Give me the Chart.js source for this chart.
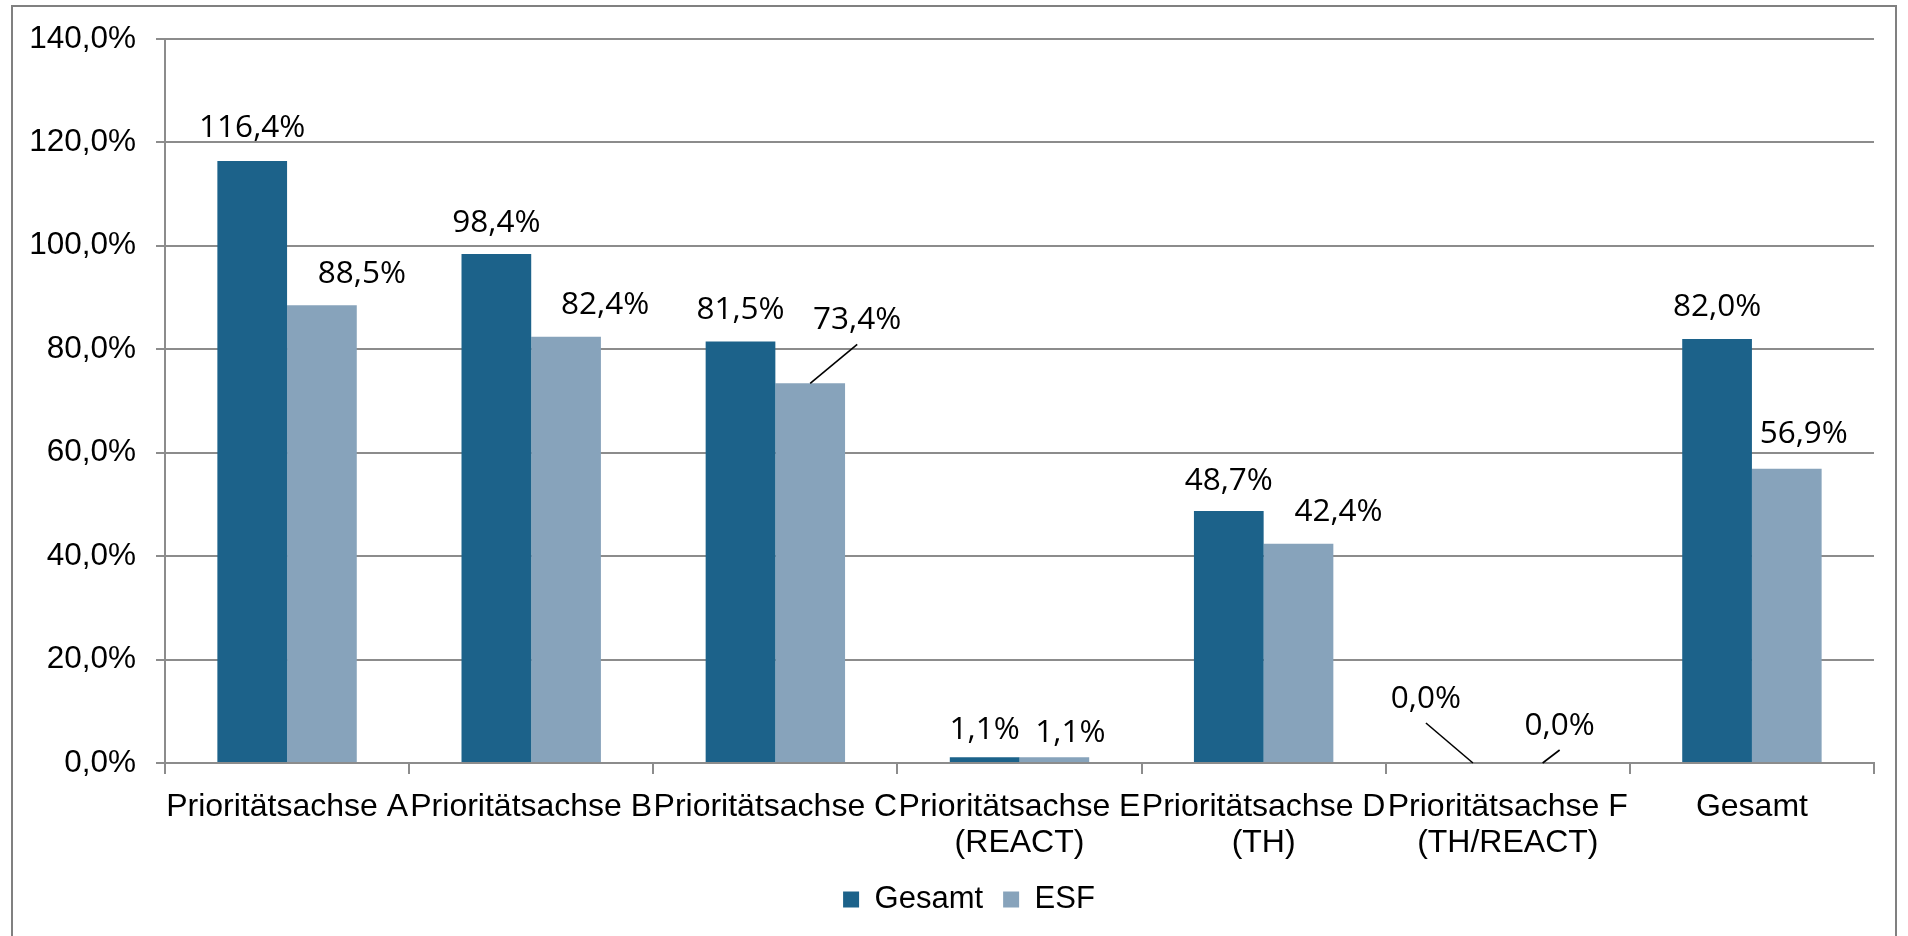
<!DOCTYPE html>
<html>
<head>
<meta charset="utf-8">
<script src="https://cdn.jsdelivr.net/npm/chart.js@4"></script>
<style>
  html, body { margin: 0; padding: 0; background: #fff; }
  #wrap { width: 1908px; height: 936px; position: relative; }
</style>
</head>
<body>
<div id="wrap"><canvas id="myChart"></canvas></div>
<script>
"use strict";

// Daten
const categories = [
  "Prioritätsachse A",
  "Prioritätsachse B",
  "Prioritätsachse C",
  ["Prioritätsachse E", "(REACT)"],
  ["Prioritätsachse D", "(TH)"],
  ["Prioritätsachse F", "(TH/REACT)"],
  "Gesamt",
];
const gesamtValues = [116.4, 98.4, 81.5, 1.1, 48.7, 0.0, 82.0];
const esfValues = [88.5, 82.4, 73.4, 1.1, 42.4, 0.0, 56.9];
const yTicks = [0, 20, 40, 60, 80, 100, 120, 140];

// Beschriftungen: Verschiebung (x) und Abstand über dem Balken (y), Führungslinien
const gesamtLabelDx = [0, 0, 0, 0, 0, -47, 0];
const gesamtLabelRise = [33, 31, 31, 27, 30, 64, 32];
const gesamtLeader = [false, false, false, false, false, true, false];
const esfLabelDx = [40, 39, 47, 16, 40, 17, 17];
const esfLabelRise = [31, 32, 63, 24, 32, 37, 35];
const esfLeader = [false, false, true, false, false, true, false];

const fmt = (v) => v.toFixed(1).replace(".", ",") + "%";

const labelPlugin = {
  id: "valueLabels",
  afterDatasetsDraw(chart) {
    const ctx = chart.ctx;
    const setups = [
      { dx: gesamtLabelDx, rise: gesamtLabelRise, leader: gesamtLeader },
      { dx: esfLabelDx, rise: esfLabelRise, leader: esfLeader },
    ];
    ctx.save();
    ctx.font = "31.5px 'Open Sans'";
    ctx.fillStyle = "#000";
    ctx.textAlign = "center";
    ctx.textBaseline = "middle";
    chart.data.datasets.forEach((ds, di) => {
      const meta = chart.getDatasetMeta(di);
      const s = setups[di];
      meta.data.forEach((bar, i) => {
        const lx = bar.x + s.dx[i];
        const ly = bar.y - s.rise[i];
        ctx.fillText(fmt(ds.data[i]), lx, ly);
        if (s.leader[i]) {
          ctx.beginPath();
          ctx.strokeStyle = "#000";
          ctx.lineWidth = 1.6;
          ctx.moveTo(bar.x, bar.y);
          ctx.lineTo(lx, ly + 24);
          ctx.stroke();
        }
      });
    });
    ctx.restore();
  },
};

// Rahmen; Legende etwas verschieben
const framePlugin = {
  id: "frame",
  afterLayout(chart) {
    if (chart.legend) {
      chart.legend.left += 32;
      chart.legend.right += 32;
      chart.legend.top += 3;
      chart.legend.bottom += 3;
    }
  },
  afterDraw(chart) {
    const ctx = chart.ctx;
    ctx.save();
    ctx.strokeStyle = "#808080";
    ctx.lineWidth = 2;
    ctx.strokeRect(12, 6, 1884, 960);
    ctx.restore();
  },
};

const data = {
  labels: categories,
  datasets: [
    {
      label: "Gesamt",
      backgroundColor: "#1c628a",
      data: gesamtValues,
    },
    {
      label: "ESF",
      backgroundColor: "#87a3bb",
      data: esfValues,
    },
  ],
};

const config = {
  type: "bar",
  data,
  plugins: [labelPlugin, framePlugin],
  options: {
    responsive: true,
    maintainAspectRatio: false,
    animation: false,
    categoryPercentage: 0.571,
    barPercentage: 1.0,
    layout: {
      padding: { left: 0, right: 34, top: 38, bottom: 14 },
    },
    plugins: {
      tooltip: { enabled: false },
      legend: {
        position: "bottom",
        labels: {
          boxWidth: 16,
          boxHeight: 16,
          padding: 20,
          color: "#000",
          font: { family: "'Liberation Sans', Arial", size: 31 },
        },
      },
    },
    scales: {
      x: {
        offset: true,
        afterFit(scale) { scale.height = 98; },
        grid: {
          offset: true,
          drawOnChartArea: false,
          drawTicks: true,
          tickLength: 11,
          color: "#8c8c8c",
          lineWidth: 2,
        },
        border: { color: "#8c8c8c", width: 2 },
        ticks: {
          maxRotation: 0,
          autoSkip: false,
          padding: 15,
          color: "#000",
          font: { family: "'Liberation Sans', Arial", size: 32, lineHeight: 1.13 },
        },
      },
      y: {
        min: 0,
        max: 140,
        afterFit(scale) { scale.width = 165; },
        afterBuildTicks(scale) {
          scale.ticks = yTicks.map((v) => ({ value: v }));
        },
        grid: {
          color: "#8c8c8c",
          lineWidth: 2,
          tickLength: 9,
        },
        border: { color: "#8c8c8c", width: 2 },
        ticks: {
          padding: 20,
          color: "#000",
          font: { family: "'Liberation Sans', Arial", size: 31.5 },
          callback: (v) => fmt(v),
        },
      },
    },
  },
};

const myChart = new Chart(document.querySelector("#myChart"), config);
</script>
</body>
</html>
